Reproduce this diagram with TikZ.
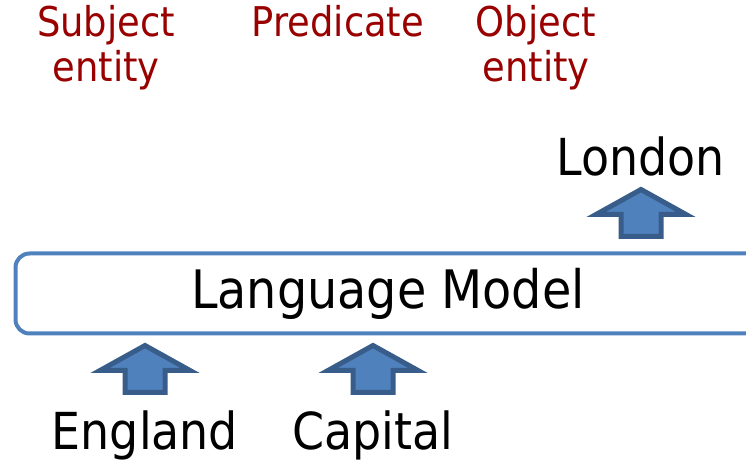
\documentclass[tikz,border=0pt]{standalone}
\usepackage{fontspec}
\setmainfont{DejaVu Sans Condensed}
\definecolor{rolered}{HTML}{990000}
\definecolor{boxblue}{HTML}{4F81BD}
\definecolor{arrowfill}{HTML}{4F81BD}
\definecolor{arrowedge}{HTML}{385D8A}

\begin{document}
\begin{tikzpicture}[x=1pt, y=1pt,
    word/.style={font=\fontsize{51}{55}\selectfont, inner sep=0},
    role/.style={font=\fontsize{41}{45}\selectfont, text=rolered, align=center, inner sep=0},
    blockup/.pic={
        \draw [line width=5, draw=arrowedge, fill=arrowfill] (-20,0) -- (20,0)
            -- (20,22) -- (45,22) -- (0,47) -- (-45,22) -- (-20,22) -- cycle;
    }]
    \useasboundingbox (0,0) rectangle (746,460);
    % roles of the triple
    \node[role, anchor=base] (subj) at (106,378) {Subject\\entity};
    \node[role, anchor=base] (pred) at (338,423) {Predicate};
    \node[role, anchor=base] (obj) at (536,378) {Object\\entity};
    % model
    \node[word, font=\fontsize{53}{55}\selectfont, draw=boxblue, line width=4,
        rounded corners=14, minimum width=745, minimum height=80] (lm) at (388,166.5) {Language Model};
    % input and output
    \node[word, anchor=base] (england) at (145,11) {England};
    \node[word, anchor=base] (capital) at (373,11) {Capital};
    \node[word, anchor=base] (london) at (641,284) {London};
    \pic at (145,67.5) {blockup};
    \pic at (373,67.5) {blockup};
    \pic at (641,223.5) {blockup};
\end{tikzpicture}
\end{document}
